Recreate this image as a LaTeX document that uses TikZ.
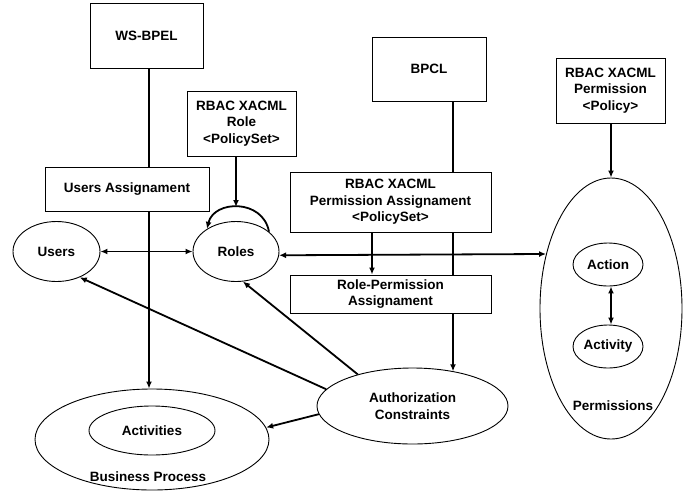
\documentclass[tikz,border=0pt]{standalone}
\usepackage{fontspec}
\setmainfont{Liberation Sans}
\usetikzlibrary{shapes.geometric,arrows.meta}
\begin{document}
\begin{tikzpicture}[x=1pt,y=-1pt,
  every node/.style={font=\fontsize{13.5}{16.5}\selectfont\bfseries},
  boxnode/.style={draw,line width=1pt,rectangle,inner sep=0pt,align=center},
  ellnode/.style={draw,line width=0.9pt,ellipse,inner sep=0pt,align=center},
  conn/.style={line width=1.8pt},
  arr/.style={conn,-{Latex[length=7pt,width=6pt]}},
  darr/.style={conn,{Latex[length=7pt,width=6pt]}-{Latex[length=7pt,width=6pt]}},
  lbl/.style={inner sep=0pt}]
\useasboundingbox (0,0) rectangle (696,491);

% boxes
\node[boxnode,minimum width=113pt,minimum height=65pt] (wsbpel) at (146.5,35.5) {WS-BPEL};
\node[boxnode,minimum width=109pt,minimum height=65pt] (rolebox) at (241.5,123.5) {RBAC XACML\\Role\\<PolicySet>};
\node[boxnode,minimum width=164pt,minimum height=44pt] (ua) at (127,189) {Users Assignament};
\node[boxnode,minimum width=114pt,minimum height=64pt] (bpcl) at (429,69) {BPCL};
\node[boxnode,minimum width=109pt,minimum height=65pt] (ppol) at (610.5,90.5) {RBAC XACML\\Permission\\<Policy>};
\node[boxnode,minimum width=201pt,minimum height=60pt] (pa) at (390.5,202) {RBAC XACML\\Permission Assignament\\<PolicySet>};
\node[boxnode,minimum width=201pt,minimum height=38pt] (rp) at (390.5,294) {Role-Permission\\Assignament};

% ellipses
\node[ellnode,minimum width=87pt,minimum height=60pt] (users) at (56.5,251.5) {Users};
\node[ellnode,minimum width=86pt,minimum height=60pt] (roles) at (236,251.5) {Roles};
\node[ellnode,minimum width=142pt,minimum height=261pt] (perms) at (611,308.5) {};
\node[ellnode,minimum width=70pt,minimum height=43pt] (action) at (608,264.5) {Action};
\node[ellnode,minimum width=70pt,minimum height=43pt] (activity) at (608,346.5) {Activity};
\node[lbl] (permlbl) at (613,406) {Permissions};
\node[ellnode,minimum width=191pt,minimum height=76pt] (auth) at (412.5,406) {Authorization\\Constraints};
\node[ellnode,minimum width=234pt,minimum height=101pt] (bp) at (152,439.5) {};
\node[ellnode,minimum width=126pt,minimum height=49pt] (acts) at (152,430.5) {Activities};
\node[lbl] (bplbl) at (148,477) {Business Process};

% helper coordinates
\coordinate (xw) at (149,0);
\coordinate (xb) at (453,0);
\coordinate (xa) at (372,0);
\coordinate (looptop) at (236,207);

% connectors
\draw[conn] (wsbpel.south -| xw) -- (ua.north -| xw);
\draw[arr] (ua.south -| xw) -- (bp.north -| xw);
\draw[arr] (rolebox.south -| looptop) -- (looptop);
\draw[arr] (roles.31) .. controls +(-6,-33) and +(7,-29) .. (roles.142);
\draw[darr] (users.east) -- (roles.west);
\draw[darr] (roles.-5) -- (perms.140);
\draw[conn] (bpcl.south -| xb) -- (pa.north -| xb);
\draw[conn] (pa.south -| xb) -- (rp.north -| xb);
\draw[arr] (rp.south -| xb) -- (auth.40 -| xb);
\draw[arr] (pa.south -| xa) -- (rp.north -| xa);
\draw[arr] (ppol.south -| perms.north) -- (perms.north);
\draw[darr] (action.south -| perms.north) -- (activity.north -| perms.north);
\draw[arr] (auth.169) -- (users.-48);
\draw[arr] (auth.150) -- (roles.-77);
\draw[arr] (auth.185) -- (bp.6);
\end{tikzpicture}
\end{document}
